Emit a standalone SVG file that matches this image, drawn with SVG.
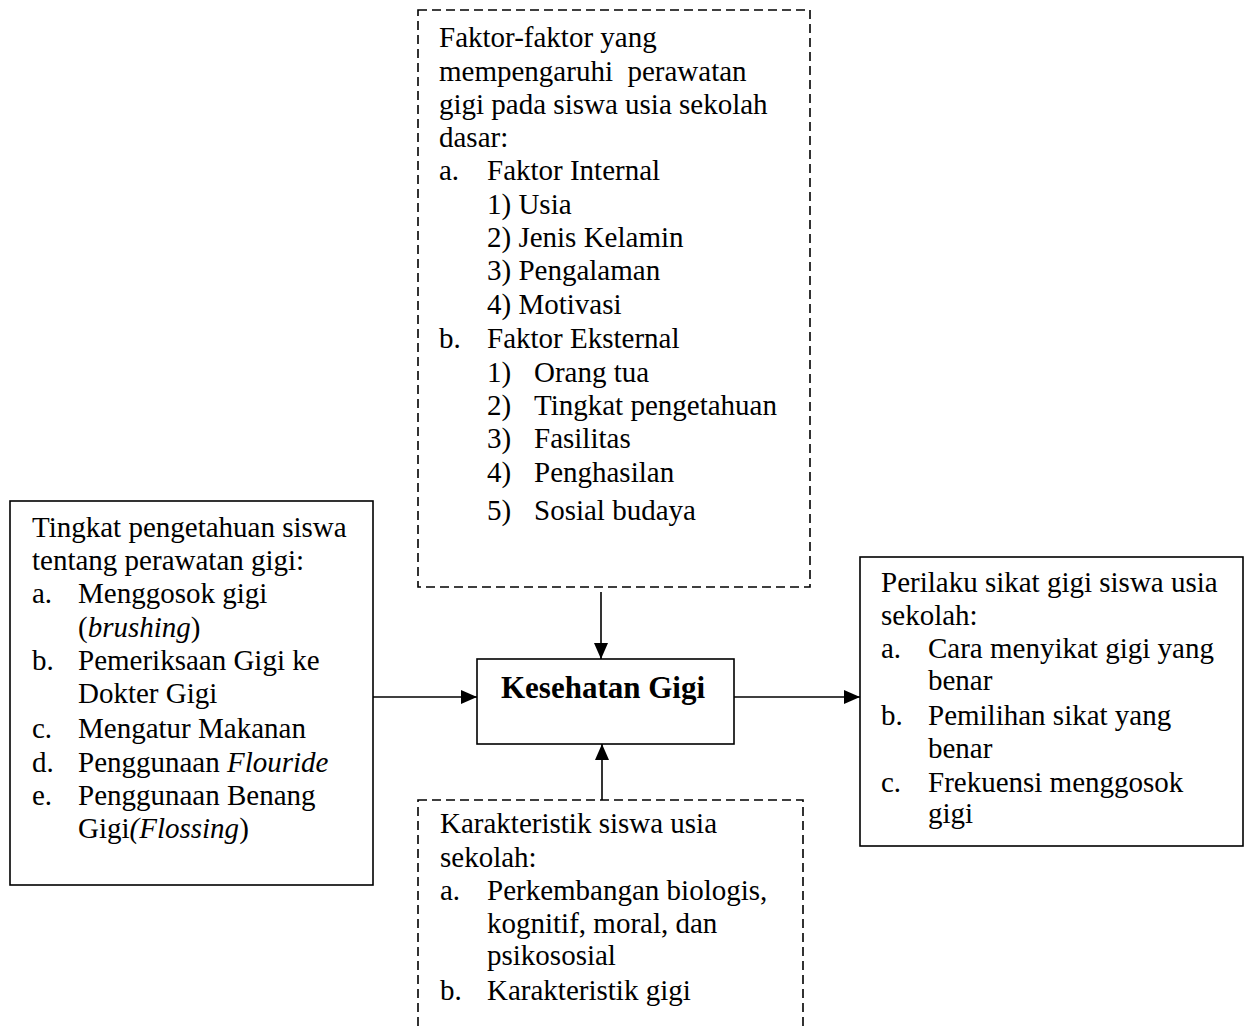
<svg xmlns="http://www.w3.org/2000/svg" width="1246" height="1030" viewBox="0 0 1246 1030">
<style>
text{font-family:"Liberation Serif","Times New Roman",serif;font-size:29px;fill:#000}
.b{font-weight:bold;font-size:31px}
.i{font-style:italic}
.box{fill:#fff;stroke:#000;stroke-width:1.6}
.dash{fill:#fff;stroke:#000;stroke-width:1.6;stroke-dasharray:9 5}
.con{stroke:#000;stroke-width:1.6;fill:none;marker-end:url(#ah)}
</style>
<defs>
<marker id="ah" viewBox="0 0 16 14" refX="16" refY="7" markerWidth="16" markerHeight="14" markerUnits="userSpaceOnUse" orient="auto">
<path d="M0,0 L16,7 L0,14 Z" fill="#000"/>
</marker>
</defs>
<g id="connectors">
<line class="con" x1="601" y1="592" x2="601" y2="659"/>
<line class="con" x1="602" y1="800" x2="602" y2="744"/>
<line class="con" x1="373" y1="697" x2="477" y2="697"/>
<line class="con" x1="734" y1="697" x2="860" y2="697"/>
</g>
<g id="faktor">
<rect class="dash" x="418" y="10" width="392" height="577"/>
<text x="439" y="47">Faktor-faktor yang</text>
<text x="439" y="81" xml:space="preserve">mempengaruhi  perawatan</text>
<text x="439" y="114">gigi pada siswa usia sekolah</text>
<text x="439" y="147">dasar:</text>
<text x="439" y="180">a.</text><text x="487" y="180">Faktor Internal</text>
<text x="487" y="214">1) Usia</text>
<text x="487" y="247">2) Jenis Kelamin</text>
<text x="487" y="280">3) Pengalaman</text>
<text x="487" y="314">4) Motivasi</text>
<text x="439" y="348">b.</text><text x="487" y="348">Faktor Eksternal</text>
<text x="487" y="382">1)</text><text x="534" y="382">Orang tua</text>
<text x="487" y="415">2)</text><text x="534" y="415">Tingkat pengetahuan</text>
<text x="487" y="448">3)</text><text x="534" y="448">Fasilitas</text>
<text x="487" y="482">4)</text><text x="534" y="482">Penghasilan</text>
<text x="487" y="520">5)</text><text x="534" y="520">Sosial budaya</text>
</g>
<g id="pengetahuan">
<rect class="box" x="10" y="501" width="363" height="384"/>
<text x="32" y="537">Tingkat pengetahuan siswa</text>
<text x="32" y="570">tentang perawatan gigi:</text>
<text x="32" y="603">a.</text><text x="78" y="603">Menggosok gigi</text>
<text x="78" y="637">(<tspan class="i">brushing</tspan>)</text>
<text x="32" y="670">b.</text><text x="78" y="670">Pemeriksaan Gigi ke</text>
<text x="78" y="703">Dokter Gigi</text>
<text x="32" y="738">c.</text><text x="78" y="738">Mengatur Makanan</text>
<text x="32" y="772">d.</text><text x="78" y="772">Penggunaan <tspan class="i">Flouride</tspan></text>
<text x="32" y="805">e.</text><text x="78" y="805">Penggunaan Benang</text>
<text x="78" y="838">Gigi<tspan class="i">(Flossing</tspan>)</text>
</g>
<g id="kesehatan">
<rect class="box" x="477" y="659" width="257" height="85"/>
<text class="b" x="501" y="698">Kesehatan Gigi</text>
</g>
<g id="perilaku">
<rect class="box" x="860" y="557" width="383" height="289"/>
<text x="881" y="592">Perilaku sikat gigi siswa usia</text>
<text x="881" y="625">sekolah:</text>
<text x="881" y="658">a.</text><text x="928" y="658">Cara menyikat gigi yang</text>
<text x="928" y="690">benar</text>
<text x="881" y="725">b.</text><text x="928" y="725">Pemilihan sikat yang</text>
<text x="928" y="758">benar</text>
<text x="881" y="792">c.</text><text x="928" y="792">Frekuensi menggosok</text>
<text x="928" y="823">gigi</text>
</g>
<g id="karakteristik">
<rect class="dash" x="418" y="800" width="385" height="260"/>
<text x="440" y="833">Karakteristik siswa usia</text>
<text x="440" y="867">sekolah:</text>
<text x="440" y="900">a.</text><text x="487" y="900">Perkembangan biologis,</text>
<text x="487" y="933">kognitif, moral, dan</text>
<text x="487" y="965">psikososial</text>
<text x="440" y="1000">b.</text><text x="487" y="1000">Karakteristik gigi</text>
</g>
</svg>
